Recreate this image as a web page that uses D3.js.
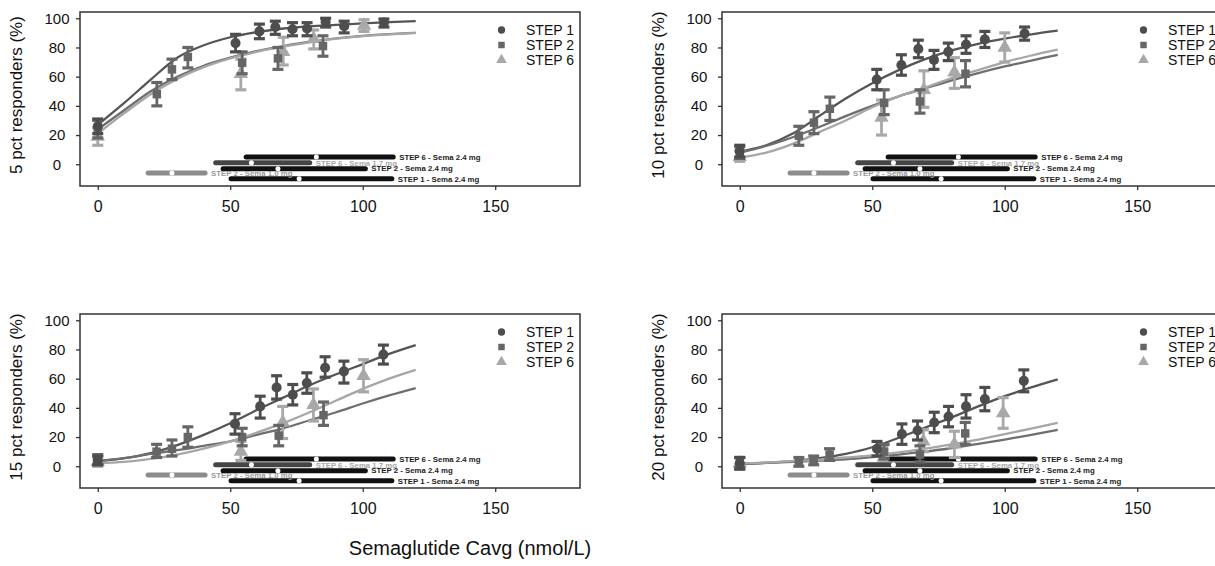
<!DOCTYPE html>
<html>
<head>
<meta charset="utf-8">
<script src="https://cdn.jsdelivr.net/npm/d3@7"></script>
<style>
  body { margin: 0; background: #fff; }
  svg { display: block; font-family: "Liberation Sans", Arial, sans-serif; }
</style>
</head>
<body>
<svg id="chart" width="1215" height="566"></svg>
<script>
// x grid for the fitted curves
const fitX = [0, 10, 20, 30, 40, 50, 60, 70, 80, 90, 100, 110, 120];

// observed points: [Cavg, responders %, lower, upper]
const obs5Step1 = [[0, 26, 21, 31], [52, 83, 77, 89], [61, 91, 86, 96], [67, 94, 89, 98], [73.5, 92.5, 88, 97], [79, 93, 88, 97], [86, 97.5, 94, 100], [93, 94.5, 90, 98], [108, 97, 94, 99.5]];
const obs5Step2 = [[0, 24, 18, 30], [22.3, 48, 40, 56], [28, 65, 58, 72], [34, 73.5, 66, 80], [54.5, 69.5, 62, 77], [68, 72.5, 65, 80], [85, 81, 74, 88]];
const obs5Step6 = [[0, 19, 13, 25], [54, 62, 51, 72], [70, 77, 68, 87], [81.5, 86, 79, 92], [100.5, 95, 91, 99]];
const fit5Step1 = [27, 42, 58, 73, 81.5, 87, 90.5, 93, 94.5, 95.5, 96.5, 97.3, 98];
const fit5Step2 = [24, 37, 50, 60, 67.5, 73, 77.5, 81, 84, 86.3, 88, 89.2, 90];
const fit5Step6 = [21, 35, 48, 58.5, 66.5, 72.5, 77, 80.5, 83.5, 86, 87.8, 89, 90];

const obs10Step1 = [[0, 9, 5, 13], [51.7, 58, 51, 65], [61, 68, 61, 75], [67.4, 79, 73, 85], [73.3, 71.5, 65, 78], [78.7, 77, 71, 83], [85.4, 82, 76, 88], [92.5, 85.5, 80, 91], [107.5, 89.5, 85, 94]];
const obs10Step2 = [[0, 8, 4, 12], [22.3, 19.5, 13, 26], [28, 28.5, 21, 36], [34, 38, 30, 46], [54.5, 42, 34, 51], [68, 43, 35, 51], [85.2, 62, 53, 71]];
const obs10Step6 = [[0, 5, 2, 9], [53.5, 32, 20, 44], [69.5, 51, 39, 64], [81, 63, 52, 73], [100, 80, 70, 90]];
const fit10Step1 = [8.5, 13, 21, 33, 45, 55.5, 64.5, 72, 78, 82.5, 86, 89, 91.5];
const fit10Step2 = [8, 12.5, 18.5, 25.5, 33, 40, 46.5, 52, 57.5, 62.5, 67, 71, 75];
const fit10Step6 = [4.5, 8, 14, 22, 30, 39, 46.5, 52.5, 59, 64.5, 70, 74.5, 78.5];

const obs15Step1 = [[0, 4, 1, 7], [51.8, 29, 22, 36], [61.3, 41, 33, 48], [67.5, 54, 46, 62], [73.6, 49, 42, 56], [78.9, 57, 50, 64], [85.8, 67.5, 61, 75], [92.9, 65, 57, 72], [107.8, 76.5, 70, 83]];
const obs15Step2 = [[0, 4, 1, 8], [22.2, 10, 6, 15], [28, 12, 7, 18], [34, 20, 13, 27], [54.5, 20, 14, 26], [68.3, 21, 14, 28], [85.2, 35, 28, 44]];
const obs15Step6 = [[0, 3, 0, 6], [54, 10, 4, 17], [69.8, 30, 19, 41], [81.4, 42, 31, 53], [100.3, 62, 51, 73]];
const fit15Step1 = [3.5, 5.5, 9, 14.5, 21.5, 29.5, 38.5, 47, 55.5, 63, 70, 77, 83];
const fit15Step2 = [3.5, 5.5, 8.5, 11, 14, 17, 21.5, 26, 31.5, 37, 43, 48.5, 53.5];
const fit15Step6 = [2, 3, 5, 8, 12, 17, 23, 29.5, 37, 45, 53, 60, 66];

const obs20Step1 = [[0, 2, -2, 6], [51.8, 12, 7, 17], [61.2, 22, 15, 29], [67.1, 24.5, 18, 31], [73.4, 30, 23, 37], [78.8, 34, 27, 41], [85.4, 41, 33, 49], [92.5, 46, 38, 54], [107.2, 58.5, 51, 66]];
const obs20Step2 = [[0, 2, -1, 6], [22.3, 3, 0, 6], [27.9, 4, 1, 7], [33.9, 8, 4, 12], [54.5, 10, 5, 15], [68, 8, 3, 14], [85.1, 22.5, 15, 30]];
const obs20Step6 = [[0, 2, -2, 6], [54, 9, 4, 14], [69.3, 17, 10, 25], [81, 15, 6, 24], [99.4, 36.5, 26, 47]];
const fit20Step1 = [1.5, 2.3, 3.5, 5.5, 8.5, 13, 19.5, 26.5, 33.5, 41, 48, 54, 59.5];
const fit20Step2 = [1.8, 2.3, 3, 3.8, 4.8, 6.3, 8, 10, 12.5, 15.3, 18.3, 21.5, 25];
const fit20Step6 = [1.8, 2.5, 3.5, 4.5, 6, 7.5, 9.5, 12, 15, 18.3, 22, 25.8, 29.7];

// exposure ranges at the bottom of every panel: label, y, from, median, to
const exposureLabels = ["STEP 6 - Sema 2.4 mg", "STEP 6 - Sema 1.7 mg", "STEP 2 - Sema 2.4 mg", "STEP 2 - Sema 1.0 mg", "STEP 1 - Sema 2.4 mg"];
const exposureY = [5, 1, -3, -6, -10];
const exposureFrom = [56, 44.5, 47.3, 19, 50.3];
const exposureMid = [82.5, 58, 68, 28, 76];
const exposureTo = [111.5, 80, 101, 40.5, 111];

const yTitles = ["5 pct responders (%)", "10 pct responders (%)", "15 pct responders (%)", "20 pct responders (%)"];
const xTicks = [0, 50, 100, 150];
const yTicks = [0, 20, 40, 60, 80, 100];
const seriesNames = ["STEP 1", "STEP 2", "STEP 6"];

const panels = [
    { left: 80, top: 12, title: yTitles[0], obs: [obs5Step1, obs5Step2, obs5Step6], fit: [fit5Step1, fit5Step2, fit5Step6] },
    { left: 722, top: 12, title: yTitles[1], obs: [obs10Step1, obs10Step2, obs10Step6], fit: [fit10Step1, fit10Step2, fit10Step6] },
    { left: 80, top: 314, title: yTitles[2], obs: [obs15Step1, obs15Step2, obs15Step6], fit: [fit15Step1, fit15Step2, fit15Step6] },
    { left: 722, top: 314, title: yTitles[3], obs: [obs20Step1, obs20Step2, obs20Step6], fit: [fit20Step1, fit20Step2, fit20Step6] }
];

const seriesColor = ["#4d4d4d", "#666666", "#a8a8a8"];
const curveColor = ["#555555", "#6e6e6e", "#a6a6a6"];
const seriesSymbol = [d3.symbolCircle, d3.symbolSquare, d3.symbolTriangle];
const symbolSize = [80, 72, 90];
const exposureColor = ["#111", "#454545", "#111", "#8c8c8c", "#111"];
const exposureTextColor = ["#222", "#a8a8a8", "#222", "#999", "#222"];

const W = 500, H = 174;
const x = d3.scaleLinear().domain([-6.7, 182]).range([0, W]);
const y = d3.scaleLinear().domain([-14.9, 104.3]).range([H, 0]);

const svg = d3.select('#chart');

panels.forEach(p => drawPanel(svg.append('g').attr('transform', `translate(${p.left},${p.top})`), p));

svg.append('text')
    .attr('x', 470).attr('y', 555)
    .attr('text-anchor', 'middle')
    .attr('font-size', 20)
    .attr('fill', '#111')
    .text('Semaglutide Cavg (nmol/L)');

function drawPanel(g, p) {
    // axes
    const xAxis = g.append('g').attr('transform', `translate(0,${H})`)
        .call(d3.axisBottom(x).tickValues(xTicks).tickSize(4).tickPadding(11));
    const yAxis = g.append('g')
        .call(d3.axisLeft(y).tickValues(yTicks).tickSize(4).tickPadding(0));
    [xAxis, yAxis].forEach(a => {
        a.select('.domain').remove();
        a.selectAll('line').attr('stroke', '#333').attr('stroke-width', 1.3);
        a.selectAll('text').attr('fill', '#111')
            .attr('font-family', '"Liberation Sans", Arial, sans-serif');
    });
    xAxis.selectAll('text').attr('font-size', 16);
    yAxis.selectAll('text').attr('font-size', 15).attr('text-anchor', 'middle').attr('x', -23);

    g.append('text')
        .attr('transform', `translate(-58,${H / 2 - 4}) rotate(-90)`)
        .attr('text-anchor', 'middle')
        .attr('font-size', 17)
        .attr('fill', '#111')
        .text(p.title);

    // exposure bars
    const ex = g.append('g');
    exposureLabels.forEach((lab, i) => {
        ex.append('line')
            .attr('x1', x(exposureFrom[i])).attr('x2', x(exposureTo[i]))
            .attr('y1', y(exposureY[i])).attr('y2', y(exposureY[i]))
            .attr('stroke', exposureColor[i]).attr('stroke-width', 5)
            .attr('stroke-linecap', 'round');
        ex.append('circle')
            .attr('cx', x(exposureMid[i])).attr('cy', y(exposureY[i]))
            .attr('r', 2.5).attr('fill', '#fff');
    });
    exposureLabels.forEach((lab, i) => {
        ex.append('text')
            .attr('x', x(exposureTo[i]) + 6).attr('y', y(exposureY[i]))
            .attr('dy', '0.35em')
            .attr('font-size', 7.8).attr('font-weight', 'bold')
            .attr('fill', exposureTextColor[i])
            .text(lab);
    });

    // fitted curves
    const line = d3.line()
        .x((d, i) => x(fitX[i]))
        .y(d => y(d))
        .curve(d3.curveMonotoneX);
    p.fit.forEach((f, s) => {
        g.append('path')
            .attr('d', line(f))
            .attr('fill', 'none')
            .attr('stroke', curveColor[s])
            .attr('stroke-width', 2.3);
    });

    // observed points with error bars (light series first)
    [2, 1, 0].forEach(s => {
        const sg = g.append('g').attr('stroke', seriesColor[s]).attr('fill', seriesColor[s]);
        p.obs[s].forEach(d => {
            const cx = x(d[0]);
            sg.append('line').attr('x1', cx).attr('x2', cx)
                .attr('y1', y(d[2])).attr('y2', y(d[3])).attr('stroke-width', 2.8);
            [d[2], d[3]].forEach(v => {
                sg.append('line').attr('x1', cx - 5.5).attr('x2', cx + 5.5)
                    .attr('y1', y(v)).attr('y2', y(v)).attr('stroke-width', 3.2);
            });
            sg.append('path')
                .attr('transform', `translate(${cx},${y(d[1])})`)
                .attr('d', d3.symbol().type(seriesSymbol[s]).size(symbolSize[s])())
                .attr('stroke', 'none');
        });
    });

    // legend
    seriesNames.forEach((name, s) => {
        const ly = 18 + s * 15;
        g.append('path')
            .attr('transform', `translate(421.5,${ly})`)
            .attr('d', d3.symbol().type(seriesSymbol[s]).size(s === 2 ? 50 : 42)())
            .attr('fill', seriesColor[s]);
        g.append('text')
            .attr('x', 446).attr('y', ly).attr('dy', '0.36em')
            .attr('font-size', 14).attr('fill', '#111')
            .text(name);
    });

    // frame
    g.append('rect')
        .attr('width', W).attr('height', H)
        .attr('fill', 'none').attr('stroke', '#333').attr('stroke-width', 1.5);
}
</script>
</body>
</html>
